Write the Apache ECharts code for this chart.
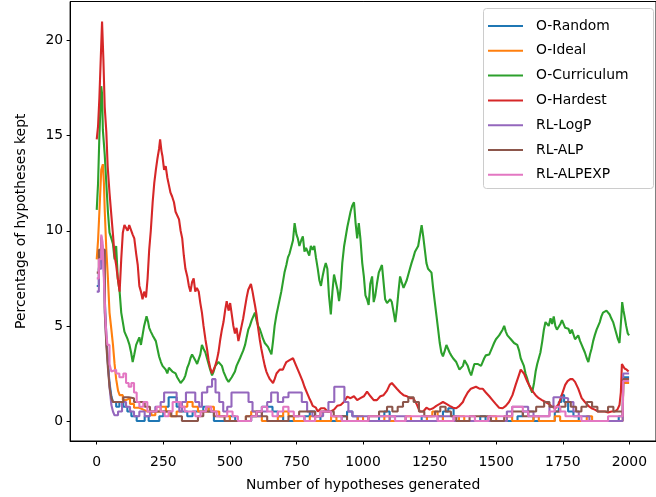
<!DOCTYPE html>
<html>
<head>
<meta charset="utf-8">
<script src="https://cdn.jsdelivr.net/npm/echarts@6/dist/echarts.min.js"></script>
<style>
html,body{margin:0;padding:0;background:#fff;}
#chart{width:656px;height:497px;}
</style>
</head>
<body>
<div id="chart"></div>
<script>
const seriesNames = ['O-Random','O-Ideal','O-Curriculum','O-Hardest','RL-LogP','RL-ALP','RL-ALPEXP'];
const xTicks = [0,250,500,750,1000,1250,1500,1750,2000];
const yTicks = [0,5,10,15,20];

const oRandom = [[0,7.1],[8,8],[15,9],[20,9.3],[25,8.5],[30,6.5],[36,4.5],[42,3.0],[48,2.0],[55,1.3],[61,1.0],[73,0.75],[85,1.0],[100,0.75],[115,0.5],[130,0.25],[150,0],[170,0],[180,0.25],[195,0],[220,0],[235,0.25],[250,0.5],[260,0.75],[270,1.25],[290,1.25],[300,0.75],[320,0.5],[340,0.25],[360,0.5],[380,0.5],[400,0.75],[420,0.5],[440,0],[480,0],[500,0.25],[520,0],[560,0],[580,0.25],[600,0.5],[620,0.75],[640,0.75],[660,0.5],[680,0.25],[700,0],[760,0],[780,0.25],[800,0.5],[820,0.25],[840,0],[900,0],[920,0.25],[940,0.5],[960,0.25],[980,0],[1040,0],[1060,0.25],[1080,0.5],[1100,0.25],[1120,0],[1200,0],[1220,0.25],[1240,0],[1290,0],[1300,0.5],[1320,0.67],[1340,0.25],[1360,0],[1420,0],[1440,0.25],[1460,0],[1560,0],[1580,0.25],[1600,0.5],[1620,0.25],[1640,0],[1700,0],[1720,0.5],[1735,1.0],[1745,1.36],[1755,1.0],[1770,0.5],[1790,0.25],[1810,0],[1940,0],[1960,0.25],[1975,0.25],[1977,2.3],[1999,2.3]];

const oIdeal = [[0,8.5],[5,9.5],[10,11],[17,13.2],[23,13.5],[27,12.5],[30,11.1],[36,9.0],[42,7.5],[48,5.7],[55,4.8],[61,4.0],[67,3.0],[73,2.2],[80,1.6],[86,1.36],[98,1.1],[110,1.2],[125,0.9],[140,0.7],[160,0.6],[175,0.5],[190,0.5],[205,0.3],[220,0.5],[240,0.75],[260,0.5],[275,0.25],[300,0.5],[320,0.75],[340,1.0],[360,0.75],[380,0.5],[400,0.5],[420,0.75],[440,0.5],[460,0.25],[480,0.25],[500,0],[540,0],[560,0.25],[580,0.5],[600,0.25],[620,0],[660,0],[680,0.25],[700,0.5],[720,0.25],[740,0],[780,0],[800,0.25],[820,0],[860,0],[880,0.25],[900,0],[960,0],[980,0.25],[1000,0],[1060,0],[1080,0.25],[1100,0],[1140,0],[1160,0.25],[1180,0],[1220,0],[1240,0.25],[1260,0.5],[1280,0.25],[1300,0],[1350,0],[1360,0.25],[1380,0],[1450,0],[1470,0.25],[1500,0],[1520,0],[1540,0.25],[1560,0],[1620,0],[1640,0.25],[1660,0],[1700,0],[1720,0.25],[1740,0],[1820,0],[1840,0.25],[1860,0],[1975,0],[1977,2.0],[1999,2.0]];

const oCurriculum = [[0,11.1],[5,12.5],[10,15],[17,17.6],[20,17.2],[23,15.3],[30,14],[36,12.5],[42,11],[48,9.9],[55,9.6],[61,9.3],[67,8.5],[73,9.2],[79,7.5],[86,6.8],[92,5.7],[98,5.2],[104,4.7],[110,4.5],[116,4.3],[123,4.0],[129,3.6],[135,3.1],[141,3.5],[148,4.0],[154,4.2],[160,4.4],[166,4.0],[172,4.5],[178,5.0],[187,5.5],[193,5.2],[197,4.9],[203,4.7],[210,4.5],[216,4.4],[222,4.2],[228,3.8],[234,3.4],[241,3.1],[247,2.9],[253,2.8],[259,2.7],[265,2.5],[271,2.8],[277,2.7],[284,2.6],[290,2.6],[296,2.5],[302,2.3],[308,2.2],[315,2.0],[321,1.9],[327,2.2],[333,2.4],[340,2.8],[346,3.0],[352,3.3],[358,3.5],[364,3.6],[370,3.2],[377,3.0],[383,2.9],[389,3.5],[395,4.0],[401,3.8],[408,3.6],[414,3.3],[420,3.0],[426,2.7],[433,2.4],[439,2.6],[445,2.9],[451,3.0],[457,3.1],[464,3.0],[470,2.9],[476,2.6],[482,2.4],[488,2.2],[495,2.06],[501,2.1],[507,2.3],[513,2.4],[519,2.6],[525,2.9],[532,3.0],[538,3.3],[544,3.5],[550,3.7],[557,4.0],[563,4.4],[569,4.8],[575,5.0],[582,5.3],[588,5.5],[594,5.7],[600,5.3],[606,5.0],[612,4.85],[618,4.6],[625,4.3],[631,4.1],[637,4.0],[643,3.9],[650,3.8],[656,3.5],[662,4.2],[668,5.0],[675,5.6],[681,6.0],[687,6.4],[693,6.8],[699,7.3],[705,7.8],[712,8.2],[718,8.6],[724,8.8],[730,8.9],[737,9.5],[743,10.4],[746,10.4],[750,9.8],[755,9.6],[761,9.2],[768,9.5],[774,9.7],[780,8.9],[786,9.1],[792,9.0],[798,8.7],[804,9.2],[811,9.0],[817,9.2],[823,8.6],[830,8.0],[836,7.4],[842,7.1],[848,7.6],[854,8.0],[860,8.3],[866,8.0],[872,6.6],[879,5.6],[885,6.8],[891,7.7],[897,7.6],[904,6.9],[910,6.3],[916,7.0],[922,8.3],[929,9.2],[935,9.7],[941,10.2],[947,10.3],[953,11.0],[959,11.3],[966,11.5],[972,10.4],[978,9.6],[984,10.4],[990,9.6],[997,8.3],[1003,7.6],[1009,6.6],[1015,6.4],[1021,6.1],[1027,7.2],[1034,7.6],[1040,6.25],[1046,6.6],[1052,7.2],[1059,7.8],[1065,7.9],[1071,8.2],[1077,7.3],[1083,6.4],[1090,6.2],[1096,6.1],[1102,6.4],[1108,6.25],[1115,5.7],[1121,5.2],[1127,5.9],[1133,6.8],[1139,7.6],[1145,7.3],[1152,7.0],[1158,6.9],[1164,7.4],[1170,7.7],[1176,8.0],[1182,8.3],[1189,8.6],[1195,8.9],[1201,9.0],[1207,9.2],[1213,9.7],[1220,10.3],[1226,9.7],[1232,9.0],[1238,8.3],[1244,8.0],[1250,8.0],[1257,7.8],[1263,7.0],[1269,6.3],[1276,5.5],[1282,4.8],[1288,4.1],[1294,3.6],[1300,3.4],[1307,3.7],[1313,4.0],[1319,3.8],[1325,3.6],[1331,3.45],[1338,3.3],[1344,3.2],[1350,3.1],[1356,2.9],[1362,2.7],[1369,2.6],[1375,2.9],[1381,3.2],[1387,3.3],[1393,2.9],[1400,2.6],[1406,2.4],[1412,2.7],[1418,3.0],[1424,3.1],[1430,3.0],[1437,2.9],[1443,2.9],[1449,3.1],[1455,3.3],[1461,3.45],[1468,3.5],[1474,3.5],[1480,3.6],[1486,3.9],[1492,4.1],[1499,4.3],[1505,4.4],[1511,4.5],[1517,4.5],[1524,4.8],[1530,5.0],[1536,4.7],[1542,4.5],[1548,4.4],[1555,4.3],[1561,4.2],[1567,4.1],[1573,4.0],[1579,4.0],[1586,3.7],[1592,3.3],[1598,3.1],[1604,2.9],[1610,2.5],[1617,2.2],[1623,1.9],[1629,1.7],[1635,1.5],[1642,2.0],[1648,2.6],[1654,3.0],[1660,3.3],[1666,3.6],[1673,4.2],[1679,4.8],[1685,5.2],[1691,5.3],[1697,5.0],[1704,5.4],[1710,5.1],[1716,5.5],[1722,5.0],[1728,4.8],[1734,4.85],[1741,5.1],[1747,5.3],[1753,5.2],[1759,4.9],[1765,5.0],[1771,4.85],[1778,4.6],[1784,4.8],[1790,4.7],[1796,4.3],[1802,4.2],[1808,4.5],[1815,4.2],[1821,4.0],[1827,3.8],[1833,3.6],[1840,3.3],[1846,3.1],[1852,3.5],[1858,3.8],[1864,4.2],[1870,4.5],[1877,4.8],[1883,5.0],[1889,5.2],[1895,5.5],[1901,5.7],[1908,5.6],[1914,5.8],[1920,5.9],[1926,5.6],[1932,5.4],[1939,5.2],[1945,4.9],[1951,4.6],[1957,4.3],[1963,4.1],[1967,4.0],[1970,5.5],[1973,6.25],[1978,5.8],[1982,5.5],[1988,5.0],[1994,4.6],[1999,4.5]];

const oHardest = [[0,14.8],[5,15.5],[10,17],[15,19],[20,21.0],[25,19],[30,16.5],[36,15.2],[41,13.4],[48,12],[55,10.8],[61,9.8],[67,8.7],[73,8.2],[79,7.5],[86,6.8],[92,8.5],[98,9.9],[104,10.3],[110,10.3],[116,10],[122,10.3],[129,10.2],[135,9.8],[141,9.6],[148,8.8],[154,8.2],[160,7.1],[166,6.8],[172,6.4],[178,6.8],[185,6.5],[191,7.5],[197,9.0],[203,10],[210,11.5],[216,12.5],[222,13.2],[228,13.8],[234,14.3],[238,14.8],[243,14.2],[247,13.9],[253,13.2],[259,13.4],[265,12.8],[271,12.4],[277,12.0],[283,11.8],[290,11.5],[296,11.0],[302,11.1],[309,10.6],[315,10.0],[321,9.6],[327,8.7],[333,8.0],[340,7.6],[346,7.1],[352,6.8],[358,7.3],[364,7.5],[370,6.8],[376,7.0],[383,6.8],[389,6.2],[395,5.7],[401,5.0],[408,4.3],[414,3.8],[420,3.2],[426,2.8],[433,2.5],[439,2.6],[445,2.9],[451,3.2],[457,3.6],[464,4.3],[470,4.8],[476,5.2],[482,5.8],[488,6.3],[495,5.8],[501,6.2],[507,5.6],[513,5.0],[519,4.6],[525,4.9],[532,4.2],[538,4.6],[544,5.0],[550,5.4],[557,6.0],[563,6.5],[569,6.9],[575,7.0],[579,7.2],[585,6.8],[590,6.4],[594,6.1],[600,5.6],[606,4.9],[612,4.3],[618,3.8],[625,3.3],[631,2.9],[637,2.6],[643,2.4],[650,2.2],[656,2.3],[662,2.0],[668,2.2],[675,2.5],[681,2.4],[687,2.7],[693,2.8],[699,2.7],[705,2.9],[712,3.1],[718,3.0],[724,3.2],[730,3.1],[737,3.3],[743,3.2],[749,2.9],[755,2.7],[761,2.5],[767,2.4],[773,2.1],[780,1.8],[786,1.7],[792,1.4],[798,1.2],[805,1.0],[811,0.8],[817,0.7],[823,0.7],[830,0.5],[842,0.67],[855,0.67],[867,0.5],[879,0.5],[891,0.6],[903,0.8],[916,0.84],[928,1.0],[941,1.28],[953,1.2],[966,1.3],[978,1.1],[990,1.2],[1003,1.3],[1015,1.54],[1028,1.3],[1040,1.1],[1052,1.1],[1065,1.3],[1077,1.36],[1090,1.6],[1100,1.9],[1108,2.0],[1115,1.9],[1127,1.7],[1140,1.5],[1152,1.36],[1165,1.3],[1177,1.2],[1189,1.2],[1201,0.9],[1213,0.5],[1226,0.5],[1238,0.7],[1250,0.6],[1263,0.67],[1275,0.8],[1288,0.9],[1300,1.0],[1313,0.9],[1325,0.8],[1338,0.7],[1350,0.67],[1362,0.8],[1375,1.0],[1381,1.2],[1393,1.5],[1405,1.7],[1412,1.8],[1424,1.8],[1437,1.7],[1449,1.7],[1461,1.5],[1474,1.3],[1486,1.1],[1498,0.9],[1511,0.7],[1524,0.67],[1536,0.8],[1548,1.0],[1561,1.36],[1573,1.9],[1585,2.4],[1592,2.7],[1598,2.76],[1604,2.5],[1610,2.3],[1617,2.06],[1623,1.9],[1635,1.6],[1648,1.36],[1660,1.2],[1672,1.1],[1685,1.0],[1697,0.9],[1710,0.75],[1722,0.67],[1735,0.9],[1747,1.4],[1759,1.9],[1768,2.1],[1778,2.2],[1787,2.2],[1796,2.06],[1808,1.7],[1821,1.2],[1833,1.0],[1846,0.8],[1858,0.67],[1870,0.6],[1883,0.5],[1895,0.5],[1908,0.5],[1920,0.45],[1933,0.5],[1945,0.5],[1955,0.6],[1963,0.84],[1968,1.5],[1972,3.0],[1977,2.9],[1982,2.76],[1990,2.7],[1997,2.6]];

const rlLogP = [[0,6.8],[8,8],[17,9.7],[22,9.0],[30,5.7],[36,4.2],[42,3.1],[48,1.8],[55,0.84],[61,0.5],[67,0.3],[80,0.5],[95,1.0],[110,0.75],[125,0.5],[140,0.25],[160,0.5],[180,0.25],[200,0.5],[220,0.75],[240,1.0],[253,1.5],[275,1.5],[290,1.5],[300,1.0],[310,0.5],[320,1.0],[335,1.5],[357,1.5],[370,1.0],[385,0.75],[395,1.5],[415,1.8],[433,2.2],[446,1.5],[460,1.0],[475,0.5],[490,0.75],[506,1.5],[530,1.5],[558,1.5],[570,1.0],[585,0.5],[600,0.25],[620,0.5],[640,1.0],[655,1.5],[680,1.0],[700,1.25],[720,1.5],[755,1.5],[770,1.0],[790,0.5],[810,0.25],[830,0.25],[850,0.5],[870,1.0],[892,1.8],[915,1.8],[930,1.0],[945,0.5],[960,0.25],[1000,0.25],[1020,0],[1080,0],[1100,0.25],[1140,0.25],[1160,0],[1250,0],[1280,0.25],[1320,0.25],[1340,0],[1520,0],[1540,0.5],[1560,0.75],[1600,0.75],[1620,0.5],[1640,0.25],[1680,0.25],[1700,0.75],[1715,1.25],[1740,1.2],[1770,1.0],[1790,0.5],[1810,0.25],[1850,0],[1975,0],[1977,2.5],[1999,2.5]];

const rlALP = [[0,7.8],[8,9],[17,9.6],[22,9],[30,6],[36,4],[42,2.8],[48,1.8],[55,1.2],[61,1.0],[73,1.0],[85,1.0],[100,1.25],[120,1.2],[140,1.0],[160,1.0],[180,0.75],[200,0.5],[220,0.5],[240,0.5],[260,0.5],[280,0.25],[300,0.25],[320,0],[360,0],[380,0.25],[400,0.5],[420,0.5],[440,0.25],[460,0.25],[480,0],[540,0],[560,0.25],[600,0.5],[620,0.25],[640,0],[700,0],[720,0.25],[760,0.5],[800,0.5],[820,0.25],[840,0.5],[870,0.5],[890,0.25],[920,0.25],[940,0],[1000,0],[1020,0.25],[1060,0.5],[1090,0.75],[1110,0.5],[1130,0.75],[1150,1.0],[1170,1.25],[1190,1.0],[1210,0.5],[1230,0.25],[1250,0.25],[1270,0.5],[1290,0.75],[1310,0.5],[1330,0.25],[1350,0],[1380,0],[1400,0.25],[1460,0.25],[1480,0],[1510,0],[1530,0.25],[1560,0.5],[1580,0.5],[1600,0.25],[1620,0.5],[1650,0.75],[1680,1.0],[1700,0.75],[1720,0.5],[1740,0.75],[1760,1.0],[1780,0.75],[1800,0.5],[1820,0.75],[1840,1.0],[1860,0.75],[1880,0.5],[1900,0.5],[1920,0.75],[1940,0.5],[1960,0.5],[1975,0.25],[1977,2.2],[1999,2.2]];

const rlALPEXP = [[0,7.5],[8,8.5],[17,9.8],[22,9.4],[28,7],[34,5],[40,4],[48,3],[55,2.6],[61,2.7],[73,2.5],[85,2.3],[100,2.5],[110,2.0],[120,1.8],[130,2.0],[140,1.5],[150,1.0],[160,0.75],[175,1.0],[190,0.5],[210,0.5],[225,0.75],[240,0.5],[255,0.25],[270,0.5],[285,1.0],[300,1.0],[315,0.75],[330,0.5],[350,0.5],[370,0.25],[390,0.5],[410,0.75],[430,0.5],[450,0.25],[470,0.25],[490,0.5],[510,0.25],[530,0],[560,0],[580,0.25],[600,0.5],[620,0.75],[640,0.5],[660,0.25],[680,0.5],[700,0.75],[720,0.5],[740,0.25],[760,0.25],[780,0],[800,0],[820,0.25],[840,0.5],[860,0.5],[880,0.25],[900,0.25],[920,0],[1000,0],[1020,0.25],[1100,0.25],[1120,0],[1140,0],[1160,0.25],[1260,0.25],[1280,0],[1320,0],[1340,0.25],[1400,0.25],[1420,0],[1450,0],[1470,0.25],[1540,0.25],[1560,0.75],[1580,0.75],[1600,0.5],[1620,0.25],[1680,0.25],[1700,0.5],[1720,0.75],[1740,0.5],[1760,0.25],[1800,0.25],[1820,0],[1900,0],[1920,0.25],[1975,0.25],[1977,2.1],[1999,2.1]];

const seriesData = [oRandom, oIdeal, oCurriculum, oHardest, rlLogP, rlALP, rlALPEXP];
const colors = ['#1f77b4','#ff7f0e','#2ca02c','#d62728','#9467bd','#8c564b','#e377c2'];
const stepped = [true, true, false, false, true, true, true];

const FONT = 'DejaVu Sans';
const chart = echarts.init(document.getElementById('chart'), null, {renderer: 'canvas'});
chart.setOption({
  animation: false,
  backgroundColor: '#fff',
  textStyle: {fontFamily: FONT},
  grid: {left: 70.1, top: 1.5, width: 591.6, height: 441.3, show: true, borderColor: '#000', borderWidth: 1, backgroundColor: 'transparent', containLabel: false},
  xAxis: {
    type: 'value', min: -100, max: 2100,
    name: 'Number of hypotheses generated', nameLocation: 'middle', nameGap: 37,
    nameTextStyle: {fontFamily: FONT, fontSize: 13.9, color: '#000'},
    axisLine: {show: true, onZero: false, lineStyle: {color: '#000', width: 1}},
    axisTick: {show: true, length: 3.5, lineStyle: {color: '#000', width: 1}, customValues: xTicks},
    axisLabel: {show: true, margin: 14, fontFamily: FONT, fontSize: 13.9, color: '#000', customValues: xTicks, formatter: v => String(v)},
    splitLine: {show: false}
  },
  yAxis: {
    type: 'value', min: -1.05, max: 22.05,
    name: 'Percentage of hypotheses kept', nameLocation: 'middle', nameGap: 42,
    nameTextStyle: {fontFamily: FONT, fontSize: 13.9, color: '#000'},
    axisLine: {show: true, onZero: false, lineStyle: {color: '#000', width: 1}},
    axisTick: {show: true, length: 3.5, lineStyle: {color: '#000', width: 1}, customValues: yTicks},
    axisLabel: {show: true, margin: 7, fontFamily: FONT, fontSize: 13.9, color: '#000', customValues: yTicks, formatter: v => String(v)},
    splitLine: {show: false}
  },
  legend: {
    orient: 'vertical', left: 488, top: 18, padding: 0, z: 20,
    itemWidth: 35, itemHeight: 2, itemGap: 8.8,
    icon: 'rect',
    textStyle: {fontFamily: FONT, fontSize: 13.9, color: '#000', lineHeight: 16, padding: [0,0,0,8]},
    data: seriesNames
  },
  graphic: [{
    type: 'rect', z: 15,
    shape: {x: 483.5, y: 8.5, width: 170, height: 180, r: 3},
    style: {fill: 'rgba(255,255,255,0.8)', stroke: '#cccccc', lineWidth: 1}
  }],
  series: seriesNames.map((n, i) => ({
    name: n, type: 'line', data: seriesData[i],
    showSymbol: false, symbol: 'none', step: stepped[i] ? 'end' : false,
    color: colors[i],
    lineStyle: {color: colors[i], width: 2.1},
    z: 2
  }))
});
</script>
</body>
</html>
